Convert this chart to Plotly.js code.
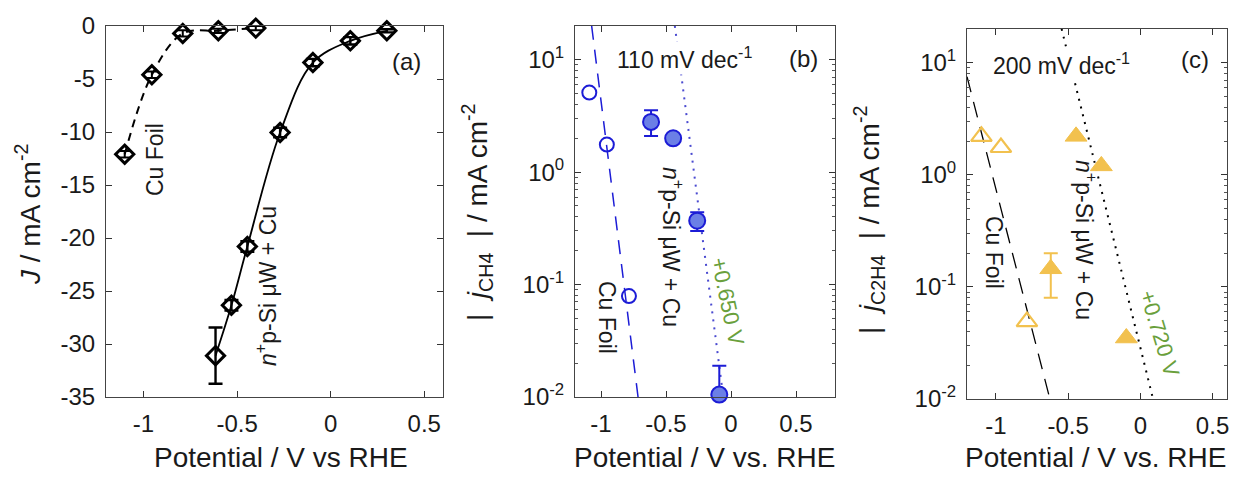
<!DOCTYPE html>
<html>
<head>
<meta charset="utf-8">
<script src="https://cdn.plot.ly/plotly-3.0.1.min.js"></script>
<style>html,body{margin:0;padding:0;background:#fff;}#chart{width:1238px;height:479px;}</style>
</head>
<body>
<div id="chart"></div>
<script>
// ---------- Data ----------
// Panel (a): total current density J (mA cm^-2) vs potential (V vs RHE)
const cuFoilV = [-1.10, -0.955, -0.79, -0.60, -0.40];
const cuFoilJ = [-12.1, -4.6, -0.7, -0.45, -0.2];
const cuFoilJErr = [0.3, 0.3, 0.3, 0.2, 0.2];
const npSiV = [-0.615, -0.53, -0.445, -0.27, -0.095, 0.105, 0.30];
const npSiJ = [-31.1, -26.35, -20.8, -10.05, -3.45, -1.4, -0.45];
const npSiJErr = [2.65, 0.5, 0.5, 0.45, 0.35, 0.35, 0.15];

// Panel (b): |j_CH4| (mA cm^-2)
const ch4CuV = [-1.09, -0.955, -0.785];
const ch4CuJ = [5.1, 1.76, 0.079];
const ch4NpV = [-0.615, -0.445, -0.26, -0.09];
const ch4NpJ = [2.8, 2.0, 0.37, 0.0105];
const ch4NpErrPlus = [0.75, 0.08, 0.07, 0.0085];
const ch4NpErrMinus = [0.7, 0.08, 0.07, 0];
const ch4CuFitV = [-1.072, -0.715];
const ch4CuFitJ = [20, 0.01];
const ch4NpFitV = [-0.432, -0.059];
const ch4NpFitJ = [20, 0.01];

// Panel (c): |j_C2H4| (mA cm^-2)
const c2h4CuV = [-1.10, -0.965, -0.785];
const c2h4CuJ = [2.2, 1.75, 0.049];
const c2h4NpV = [-0.62, -0.445, -0.27, -0.097];
const c2h4NpJ = [0.145, 2.2, 1.2, 0.035];
const c2h4NpErrPlus = [0.055, 0, 0, 0];
const c2h4NpErrMinus = [0.065, 0, 0, 0];
const c2h4CuFitV = [-1.2, -0.626];
const c2h4CuFitJ = [7.5, 0.01];
const c2h4NpFitV = [-0.545, 0.088];
const c2h4NpFitJ = [20, 0.01];

// Tick labels
const potTickVals = [-1, -0.5, 0, 0.5];
const potTickText = ['-1', '-0.5', '0', '0.5'];
const jTickVals = [-35, -30, -25, -20, -15, -10, -5, 0];
const jTickText = ['-35', '-30', '-25', '-20', '-15', '-10', '-5', '0'];
const logTickVals = [0.01, 0.1, 1, 10];
const logTickText = ['10<sup>-2</sup>', '10<sup>-1</sup>', '10<sup>0</sup>', '10<sup>1</sup>'];

// ---------- Styling ----------
const W = 1238, H = 479;
const FONT = 'Liberation Sans, Arial, Helvetica, sans-serif';
const BLUE = '#1c1cd6', BLUE_FILL = '#6b7fe6', YELLOW = '#f2c14e', GREEN = '#6aa03c', BLACK = '#000';
const TXT = '#1a1a1a';
const px = v => v / W, py = v => 1 - v / H;

const minorLog = [];
[0.01, 0.1, 1, 10].forEach(d => { for (let k = 2; k <= 9; k++) minorLog.push(d * k); });

const tickFont = {family: FONT, size: 24, color: TXT};
const titleFont = {family: FONT, size: 28, color: TXT};

function xAxis(dom, range, anchor) {
  return {domain: dom, range: range, anchor: anchor, tickvals: potTickVals, ticktext: potTickText,
    ticks: 'inside', ticklen: 6, tickcolor: '#333', showline: true, linecolor: '#444', linewidth: 1,
    mirror: 'ticks', showgrid: false, zeroline: false, tickfont: tickFont, ticklabelstandoff: 5};
}
function yLogAxis(dom, anchor) {
  return {domain: dom, type: 'log', range: [-2, 1.3], anchor: anchor, tickvals: logTickVals, ticktext: logTickText,
    ticks: 'inside', ticklen: 6, tickcolor: '#333', showline: true, linecolor: '#444', linewidth: 1,
    mirror: 'ticks', showgrid: false, zeroline: false, tickfont: tickFont, ticklabelstandoff: 5,
    minor: {tickvals: minorLog, ticks: 'inside', ticklen: 3, tickcolor: '#555', showgrid: false}};
}

const traces = [
  // (a)
  {x: cuFoilV, y: cuFoilJ, xaxis: 'x', yaxis: 'y', mode: 'lines+markers', line: {shape: 'spline', dash: '8px,6px', color: BLACK, width: 2},
    marker: {symbol: 'diamond-open', size: 14, color: BLACK, line: {width: 3}},
    error_y: {type: 'data', array: cuFoilJErr, color: BLACK, thickness: 2, width: 6}, cliponaxis: false},
  {x: npSiV, y: npSiJ, xaxis: 'x', yaxis: 'y', mode: 'lines+markers', line: {shape: 'spline', color: BLACK, width: 1.8},
    marker: {symbol: 'diamond-open', size: 14, color: BLACK, line: {width: 3}},
    error_y: {type: 'data', array: npSiJErr, color: BLACK, thickness: 2.4, width: 7}, cliponaxis: false},
  // (b)
  {x: ch4CuFitV, y: ch4CuFitJ, xaxis: 'x2', yaxis: 'y2', mode: 'lines', line: {color: BLUE, width: 1.5, dash: '14px,10px'}},
  {x: ch4NpFitV, y: ch4NpFitJ, xaxis: 'x2', yaxis: 'y2', mode: 'lines', line: {color: '#4a4ad0', width: 2, dash: '2px,6px'}},
  {x: ch4CuV, y: ch4CuJ, xaxis: 'x2', yaxis: 'y2', mode: 'markers',
    marker: {symbol: 'circle-open', size: 14, color: BLUE, line: {width: 2}}, cliponaxis: false},
  {x: ch4NpV, y: ch4NpJ, xaxis: 'x2', yaxis: 'y2', mode: 'markers',
    marker: {symbol: 'circle', size: 16, color: BLUE_FILL, line: {color: BLUE, width: 2}},
    error_y: {type: 'data', array: ch4NpErrPlus, arrayminus: ch4NpErrMinus, color: BLUE, thickness: 2, width: 7}, cliponaxis: false},
  // (c)
  {x: c2h4CuFitV, y: c2h4CuFitJ, xaxis: 'x3', yaxis: 'y3', mode: 'lines', line: {color: BLACK, width: 1.3, dash: '16px,10px'}},
  {x: c2h4NpFitV, y: c2h4NpFitJ, xaxis: 'x3', yaxis: 'y3', mode: 'lines', line: {color: BLACK, width: 2, dash: '2px,6px'}},
  {x: c2h4CuV, y: c2h4CuJ, xaxis: 'x3', yaxis: 'y3', mode: 'markers',
    marker: {symbol: 'triangle-up-open', size: 18, color: YELLOW, line: {width: 2.2}}, cliponaxis: false},
  {x: c2h4NpV, y: c2h4NpJ, xaxis: 'x3', yaxis: 'y3', mode: 'markers',
    marker: {symbol: 'triangle-up', size: 19, color: YELLOW, line: {color: YELLOW, width: 1}},
    error_y: {type: 'data', array: c2h4NpErrPlus, arrayminus: c2h4NpErrMinus, color: YELLOW, thickness: 2, width: 7}, cliponaxis: false}
];

function ann(text, x, y, opts) {
  return Object.assign({text: text, xref: 'paper', yref: 'paper', x: px(x), y: py(y), xanchor: 'center', yanchor: 'middle',
    showarrow: false, font: {family: FONT, size: 23, color: TXT}}, opts || {});
}
const annotations = [
  // (a)
  ann('(a)', 406, 62, {font: {family: FONT, size: 24, color: TXT}}),
  ann('Cu Foil', 155, 160, {textangle: -90}),
  ann('<i>n</i><sup>+</sup>p-Si μW + Cu', 266, 286, {textangle: -90}),
  ann('<i>J</i> / mA cm<sup>-2</sup>', 28, 215, {textangle: -90, font: titleFont}),
  ann('Potential / V vs RHE', 281, 457, {font: titleFont}),
  // (b)
  ann('110 mV dec<sup>-1</sup>', 684, 58, {bgcolor: '#fff'}),
  ann('(b)', 803, 58, {font: {family: FONT, size: 24, color: TXT}}),
  ann('Cu Foil', 607, 317, {textangle: 90}),
  ann('<i>n</i><sup>+</sup>p-Si μW + Cu', 673, 247, {textangle: 90}),
  ann('+0.650 V', 728, 301, {textangle: 78, font: {family: FONT, size: 22, color: GREEN}}),
  ann('|  <i>j</i><sub>CH4</sub>  | / mA cm<sup>-2</sup>', 477, 213, {textangle: -90, font: titleFont}),
  ann('Potential / V vs. RHE', 704, 457, {font: titleFont}),
  // (c)
  ann('200 mV dec<sup>-1</sup>', 1061, 64, {bgcolor: '#fff'}),
  ann('(c)', 1195, 59, {font: {family: FONT, size: 24, color: TXT}}),
  ann('Cu Foil', 994, 252, {textangle: 90}),
  ann('<i>n</i><sup>+</sup>p-Si μW + Cu', 1086, 240, {textangle: 90}),
  ann('+0.720 V', 1160, 333, {textangle: 73, font: {family: FONT, size: 22, color: GREEN}}),
  ann('|  <i>j</i><sub>C2H4</sub>  | / mA cm<sup>-2</sup>', 869, 220, {textangle: -90, font: titleFont}),
  ann('Potential / V vs. RHE', 1095, 457, {font: titleFont})
];

const layout = {
  width: W, height: H, margin: {l: 0, r: 0, t: 0, b: 0}, paper_bgcolor: '#fff', plot_bgcolor: '#fff',
  showlegend: false, font: {family: FONT, size: 23, color: TXT},
  xaxis: xAxis([px(106), px(443)], [-1.2, 0.6], 'y'),
  yaxis: {domain: [1 - 397 / H, 1 - 26 / H], range: [-35, 0], anchor: 'x', tickvals: jTickVals, ticktext: jTickText,
    ticks: 'inside', ticklen: 6, tickcolor: '#333', showline: true, linecolor: '#444', linewidth: 1, mirror: 'ticks',
    showgrid: false, zeroline: false, tickfont: tickFont, ticklabelstandoff: 5},
  xaxis2: xAxis([px(575), px(835)], [-1.2, 0.8], 'y2'),
  yaxis2: yLogAxis([1 - 397 / H, 1 - 26 / H], 'x2'),
  xaxis3: xAxis([px(967), px(1227)], [-1.2, 0.6], 'y3'),
  yaxis3: yLogAxis([1 - 399 / H, 1 - 29 / H], 'x3'),
  annotations: annotations
};

Plotly.newPlot('chart', traces, layout, {displayModeBar: false, staticPlot: true});
</script>
</body>
</html>
